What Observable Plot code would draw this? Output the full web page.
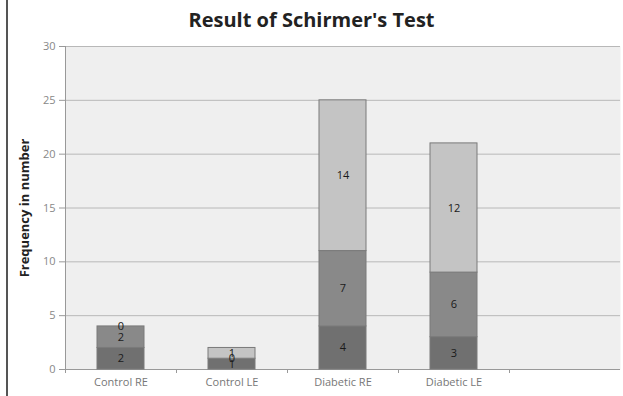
<!DOCTYPE html>
<html>
<head>
<meta charset="utf-8">
<script src="https://cdn.jsdelivr.net/npm/d3@7"></script>
<script src="https://cdn.jsdelivr.net/npm/@observablehq/plot@0.6"></script>
<style>
  html, body { margin: 0; padding: 0; background: #fff; }
  #wrap { position: relative; width: 623px; height: 396px; overflow: hidden; font-family: "Open Sans", Lato, sans-serif; }
  #edge { position: absolute; left: 6px; top: 0; width: 2px; height: 396px; background: #555; }
  #title { height: 36px; line-height: 40px; text-align: center; font-size: 20px; font-weight: bold; color: #222; }
  #chart svg { display: block; }
  #chart [aria-label="y-axis label"] text { font-weight: bold; fill: #222; font-size: 13px; }
</style>
</head>
<body>
<div id="wrap">
  <div id="edge"></div>
  <div id="title">Result of Schirmer's Test</div>
  <div id="chart"></div>
</div>
<script>
// Schirmer's test results, grouped counts per eye
const categories = ["Control RE", "Control LE", "Diabetic RE", "Diabetic LE"];
const seriesNames = ["Group 1", "Group 2", "Group 3"];
const group1 = [2, 1, 4, 3];
const group2 = [2, 0, 7, 6];
const group3 = [0, 1, 14, 12];
const yTicks = [0, 5, 10, 15, 20, 25, 30];

const fills = ["#707070", "#898989", "#c4c4c4"];
const rows = [];
[group1, group2, group3].forEach((vals, s) => {
  categories.forEach((c, i) => rows.push({ cat: c, series: seriesNames[s], value: vals[i] }));
});

// an empty trailing band keeps the plot area wide on the right
const xDomain = [...categories, ""];
const width = 623, marginLeft = 65, marginRight = 3;
const step = (width - marginLeft - marginRight) / xDomain.length;

const chart = Plot.plot({
  width,
  height: 360,
  marginTop: 10,
  marginBottom: 27,
  marginLeft,
  marginRight,
  style: { fontFamily: "'Open Sans', Lato, sans-serif", fontSize: "11px", color: "#777" },
  x: { domain: xDomain, padding: 0, label: null },
  y: { domain: [0, 30], label: null },
  color: { domain: seriesNames, range: fills },
  marks: [
    Plot.frame({ fill: "#efefef", stroke: null }),
    Plot.gridY(yTicks, { stroke: "#b8b8b8", strokeOpacity: 1 }),
    Plot.ruleX([xDomain[0]], { dx: -step / 2, stroke: "#999" }),
    Plot.ruleY([0], { stroke: "#999" }),
    Plot.axisY(yTicks, {
      tickSize: 6, tickPadding: 4, stroke: "#999", fill: "#888",
      label: "Frequency in number", labelAnchor: "center", labelArrow: "none", labelOffset: 46
    }),
    Plot.axisX(xDomain, { tickSize: 4, tickFormat: () => "", dx: -step / 2, stroke: "#999" }),
    Plot.axisX(categories, { tickSize: 0, tickPadding: 9, fill: "#777", label: null }),
    Plot.barY(rows, Plot.stackY({
      x: "cat", y: "value", z: "series", fill: "series",
      stroke: "#7a7a7a", strokeWidth: 1,
      insetLeft: 32, insetRight: 32
    })),
    Plot.text(rows, Plot.stackY({
      x: "cat", y: "value", z: "series", text: "value",
      fill: "#1a1a1a", fontSize: 11
    }))
  ]
});
document.getElementById("chart").appendChild(chart);
</script>
</body>
</html>
